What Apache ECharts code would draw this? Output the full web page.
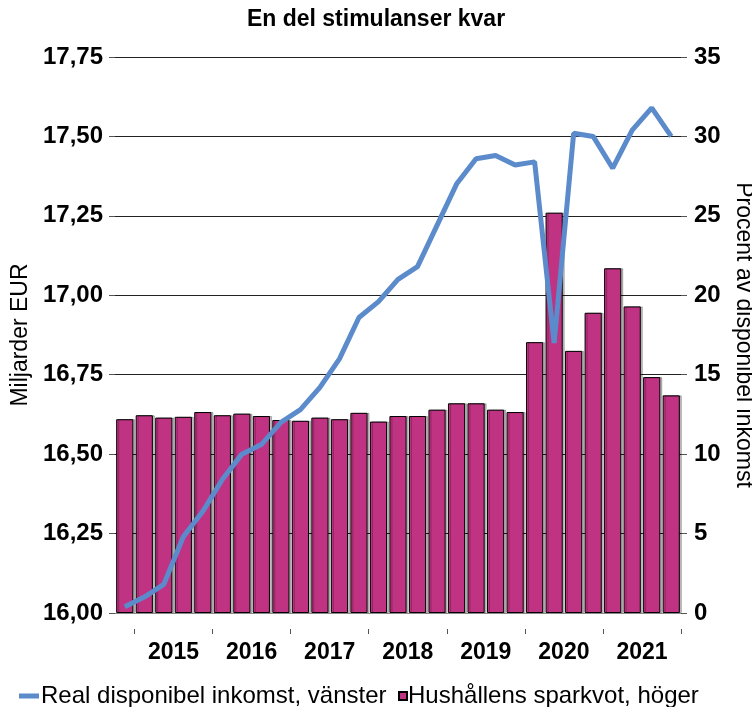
<!DOCTYPE html>
<html>
<head>
<meta charset="utf-8">
<title>En del stimulanser kvar</title>
<script src="https://cdn.jsdelivr.net/npm/echarts@6/dist/echarts.min.js"></script>
<style>
  html, body { margin: 0; padding: 0; background: #fff; }
  #chart { width: 752px; height: 707px; }
</style>
</head>
<body>
<div id="chart"></div>
<script>
// quarters 2014K4 .. 2021K4
const quarters = ['2014K4',
  '2015K1', '2015K2', '2015K3', '2015K4',
  '2016K1', '2016K2', '2016K3', '2016K4',
  '2017K1', '2017K2', '2017K3', '2017K4',
  '2018K1', '2018K2', '2018K3', '2018K4',
  '2019K1', '2019K2', '2019K3', '2019K4',
  '2020K1', '2020K2', '2020K3', '2020K4',
  '2021K1', '2021K2', '2021K3', '2021K4']

// Real disponibel inkomst, miljarder EUR (vänster)
const income = [16.02,
  16.05, 16.09, 16.24, 16.32,
  16.42, 16.50, 16.53, 16.60,
  16.64, 16.71, 16.80, 16.93,
  16.98, 17.05, 17.09, 17.22,
  17.35, 17.43, 17.44, 17.41,
  17.42, 16.85, 17.51, 17.50,
  17.40, 17.52, 17.59, 17.50]

// Hushållens sparkvot, procent (höger)
const savings = [12.2,
  12.45, 12.3, 12.35, 12.65,
  12.45, 12.55, 12.4, 12.15,
  12.1, 12.3, 12.2, 12.6,
  12.05, 12.4, 12.4, 12.8,
  13.2, 13.2, 12.8, 12.65,
  17.05, 25.2, 16.5, 18.9,
  21.7, 19.3, 14.85, 13.7]

const years = ['2015', '2016', '2017', '2018', '2019', '2020', '2021']
const yearLabelPos = [3, 7, 11, 15, 19, 23, 27]
const yearTickPos = [1, 5, 9, 13, 17, 21, 25, 29]

const FONT = 'Liberation Sans, Arial, sans-serif'
const LINE_COLOR = '#5B8BCB'
const BAR_COLOR = '#C03282'

const chart = echarts.init(document.getElementById('chart'))

const option = {
  animation: false,
  textStyle: { fontFamily: FONT, color: '#000' },
  title: {
    text: 'En del stimulanser kvar',
    left: 'center',
    top: 3,
    textStyle: { fontFamily: FONT, fontSize: 23, fontWeight: 'bold', color: '#000' },
  },
  legend: [
    {
      data: [{ name: 'Real disponibel inkomst, vänster', icon: 'rect' }],
      left: 14,
      top: 679,
      itemWidth: 20,
      itemHeight: 5,
      textStyle: { fontFamily: FONT, fontSize: 24, color: '#000', padding: [0, 0, 0, -3] },
    },
    {
      data: [{ name: 'Hushållens sparkvot, höger', icon: 'rect' }],
      left: 393,
      top: 679,
      itemWidth: 8,
      itemHeight: 8,
      textStyle: { fontFamily: FONT, fontSize: 24, color: '#000', padding: [0, 0, 0, -4] },
    },
  ],
  grid: { left: 115, right: 71, top: 57, bottom: 94, outerBoundsMode: 'none' },
  xAxis: [
    {
      type: 'category',
      data: quarters,
      boundaryGap: true,
      axisLine: { show: true, lineStyle: { color: '#888', width: 1 } },
      axisTick: { show: false },
      axisLabel: { show: false },
    },
    {
      type: 'value',
      min: 0,
      max: quarters.length,
      position: 'bottom',
      offset: 16,
      axisLine: { show: false },
      splitLine: { show: false },
      axisTick: {
        show: true,
        length: 5,
        customValues: yearTickPos,
        lineStyle: { color: '#555', width: 1 },
      },
      axisLabel: {
        show: true,
        margin: 12,
        customValues: yearLabelPos,
        formatter: (v) => years[yearLabelPos.indexOf(v)] || '',
        fontFamily: FONT,
        fontSize: 23,
        fontWeight: 'bold',
        color: '#000',
      },
    },
  ],
  yAxis: [
    {
      type: 'value',
      min: 16,
      max: 17.75,
      interval: 0.25,
      name: 'Miljarder EUR',
      nameLocation: 'middle',
      nameGap: 78,
      nameTextStyle: { fontFamily: FONT, fontSize: 23, color: '#000' },
      axisLine: { show: false },
      axisTick: { show: true, length: 6, lineStyle: { color: '#555' } },
      axisLabel: {
        margin: 12,
        formatter: (v) => v.toFixed(2).replace('.', ','),
        fontFamily: FONT,
        fontSize: 24,
        fontWeight: 'bold',
        color: '#000',
      },
      splitLine: { show: true, lineStyle: { color: '#222', width: 1 } },
    },
    {
      type: 'value',
      min: 0,
      max: 35,
      interval: 5,
      position: 'right',
      name: 'Procent av disponibel inkomst',
      nameLocation: 'middle',
      nameRotate: -90,
      nameGap: 42,
      nameTextStyle: { fontFamily: FONT, fontSize: 23, color: '#000' },
      axisLine: { show: false },
      axisTick: { show: true, length: 6, lineStyle: { color: '#555' } },
      axisLabel: {
        margin: 13,
        fontFamily: FONT,
        fontSize: 24,
        fontWeight: 'bold',
        color: '#000',
      },
      splitLine: { show: false },
    },
  ],
  series: [
    {
      name: 'Real disponibel inkomst, vänster',
      type: 'line',
      xAxisIndex: 0,
      yAxisIndex: 0,
      data: income,
      symbol: 'none',
      smooth: false,
      z: 5,
      lineStyle: { color: LINE_COLOR, width: 5 },
      itemStyle: { color: LINE_COLOR },
    },
    {
      name: 'Hushållens sparkvot, höger',
      type: 'bar',
      xAxisIndex: 0,
      yAxisIndex: 1,
      data: savings,
      barCategoryGap: '12%',
      z: 2,
      itemStyle: {
        color: BAR_COLOR,
        borderColor: '#000',
        borderWidth: 1,
        shadowColor: 'rgba(0,0,0,0.25)',
        shadowOffsetX: 2,
        shadowOffsetY: 0,
        shadowBlur: 0,
      },
    },
  ],
}

chart.setOption(option)
</script>
</body>
</html>
